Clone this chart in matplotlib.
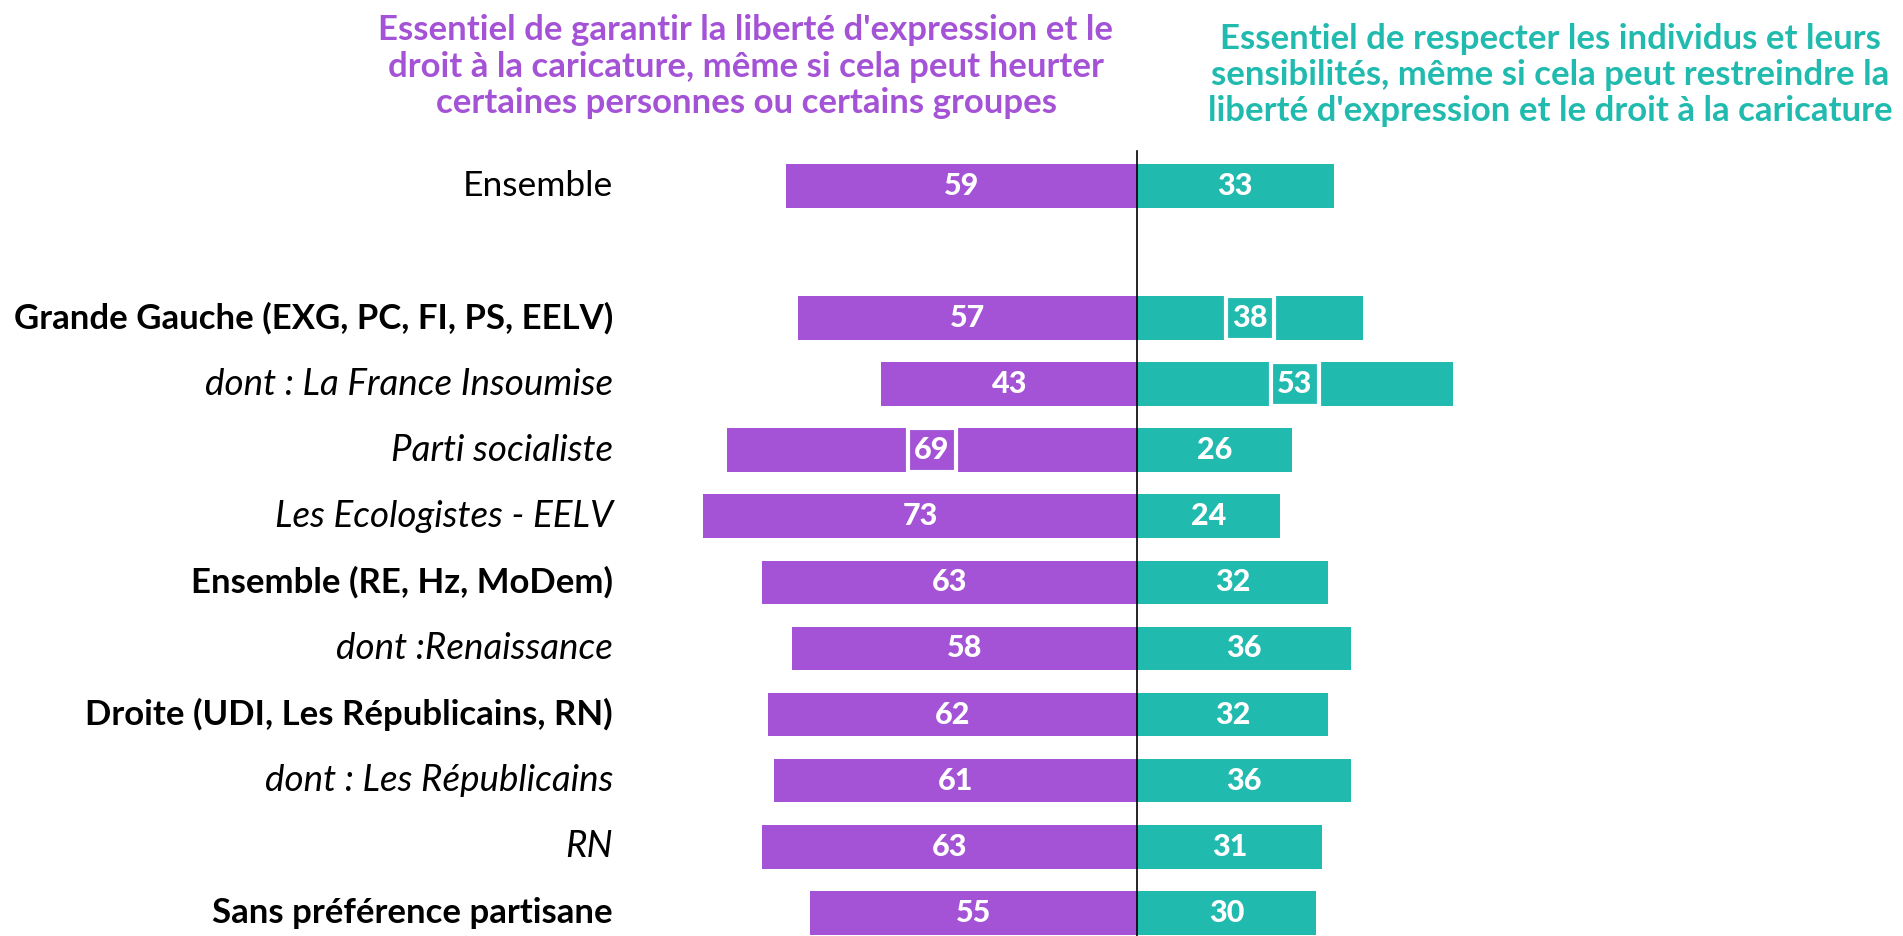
import matplotlib.pyplot as plt
from matplotlib.patches import Rectangle

plt.rcParams['font.family'] = ['Lato', 'DejaVu Sans']

# data
categories = ["Ensemble", "Grande Gauche (EXG, PC, FI, PS, EELV)", "dont : La France Insoumise",
              "Parti socialiste", "Les Ecologistes - EELV", "Ensemble (RE, Hz, MoDem)",
              "dont :Renaissance", "Droite (UDI, Les Républicains, RN)", "dont : Les Républicains",
              "RN", "Sans préférence partisane"]
label_styles = ["normal", "bold", "italic", "italic", "italic", "bold",
                "italic", "bold", "italic", "italic", "bold"]
liberte = [59, 57, 43, 69, 73, 63, 58, 62, 61, 63, 55]
respect = [33, 38, 53, 26, 24, 32, 36, 32, 36, 31, 30]
boxed_left = ["Parti socialiste"]
boxed_right = ["Grande Gauche (EXG, PC, FI, PS, EELV)", "dont : La France Insoumise"]
slots = [0, 2, 3, 4, 5, 6, 7, 8, 9, 10, 11]

header_left = ("Essentiel de garantir la liberté d'expression et le\n"
               "droit à la caricature, même si cela peut heurter\n"
               "certaines personnes ou certains groupes")
header_right = ("Essentiel de respecter les individus et leurs\n"
                "sensibilités, même si cela peut restreindre la\n"
                "liberté d'expression et le droit à la caricature")

purple = "#A452D6"
teal = "#21BAAF"

fig = plt.figure(figsize=(19.03, 9.36), dpi=100)
ax = fig.add_axes([0, 0, 1, 1])
ax.axis('off')
ax.set_xlim(-191.1, 128.7)
ax.set_ylim(11.35, -2.81)

h = 0.66
ax.barh(slots, [-v for v in liberte], height=h, color=purple)
ax.barh(slots, respect, height=h, color=teal)
ax.plot([0, 0], [-0.52, 11.35], color="black", lw=1.2)

sizes = {"normal": 25.5, "bold": 25, "italic": 26.5}
box_w = 8
for y, cat, st, l, r in zip(slots, categories, label_styles, liberte, respect):
    ax.text(-88.1, y, cat, ha='right', va='center', fontsize=sizes[st],
            fontweight='bold' if st == 'bold' else 'normal',
            fontstyle='italic' if st == 'italic' else 'normal', color='black')
    if cat in boxed_left:
        ax.add_patch(Rectangle((-l / 2 - box_w / 2, y - h / 2), box_w, h,
                               fc=purple, ec='white', lw=3, zorder=3))
    if cat in boxed_right:
        ax.add_patch(Rectangle((r / 2 - box_w / 2, y - h / 2), box_w, h,
                               fc=teal, ec='white', lw=3, zorder=3))
    ax.text(-l / 2, y, str(l), ha='center', va='center', fontsize=22,
            fontweight='black', color='white', zorder=4)
    ax.text(r / 2, y, str(r), ha='center', va='center', fontsize=22,
            fontweight='black', color='white', zorder=4)

fig.text(746 / 1903, 1 - 66.8 / 936, header_left, ha='center', va='center',
         fontsize=25, fontweight='bold', color=purple, linespacing=1.17)
fig.text(1550 / 1903, 1 - 75 / 936, header_right, ha='center', va='center',
         fontsize=25, fontweight='bold', color=teal, linespacing=1.17)

fig.savefig("out.png", dpi=100)
